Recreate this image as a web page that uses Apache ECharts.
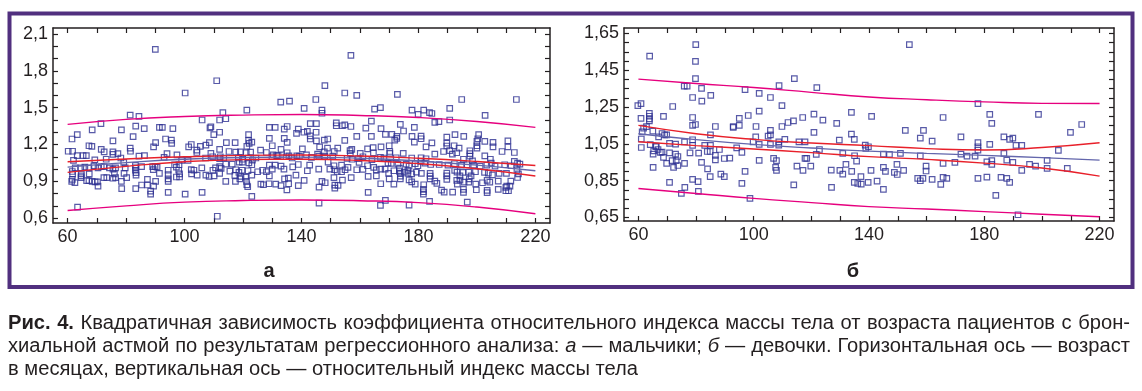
<!DOCTYPE html>
<html><head><meta charset="utf-8">
<script src="https://cdn.jsdelivr.net/npm/echarts@6/dist/echarts.min.js"></script>
<style>
html,body{margin:0;padding:0;background:#fff;}
#chart{position:absolute;left:0;top:0;width:1142px;height:391px;}
#cap{position:absolute;left:8px;top:311px;font-family:"Liberation Sans",Arial,sans-serif;font-size:20px;color:#231f20;transform-origin:0 0;white-space:nowrap;}
#cap div{height:23px;line-height:23px;white-space:nowrap;}
</style></head><body>
<div id="chart"></div>
<div id="cap">
<div><span id="l1"><b>Рис. 4.</b> Квадратичная зависимость коэффициента относительного индекса массы тела от возраста пациентов с брон-</span></div>
<div><span id="l2">хиальной астмой по результатам регрессионного анализа: <i>а</i> — мальчики; <i>б</i> — девочки. Горизонтальная ось — возраст</span></div>
<div><span id="l3">в месяцах, вертикальная ось — относительный индекс массы тела</span></div>
</div>
<script>
// ---- tick labels ----
const xTicks = [60,70,80,90,100,110,120,130,140,150,160,170,180,190,200,210,220];
const xLabels = [60,100,140,180,220];
const yTicksA = [0.6,0.7,0.8,0.9,1.0,1.1,1.2,1.3,1.4,1.5,1.6,1.7,1.8,1.9,2.0,2.1];
const yLabelsA = [0.6,0.9,1.2,1.5,1.8,2.1];
const yTicksB = [0.65,0.7,0.75,0.8,0.85,0.9,0.95,1.0,1.05,1.1,1.15,1.2,1.25,1.3,1.35,1.4,1.45,1.5,1.55,1.6,1.65];
const yLabelsB = [0.65,0.85,1.05,1.25,1.45,1.65];
const panelTitles = ['а','б'];

// ---- regression curves (age in months) ----
const curveX = [60,80,100,120,140,160,180,200,220];
const boysFit  = [1.016,1.052,1.080,1.094,1.097,1.088,1.066,1.032,0.986];
const boysCiUp = [1.059,1.082,1.100,1.111,1.114,1.106,1.088,1.062,1.029];
const boysCiLo = [0.973,1.022,1.060,1.077,1.080,1.070,1.044,1.002,0.943];
const boysPiUp = [1.364,1.405,1.428,1.440,1.445,1.437,1.420,1.388,1.340];
const boysPiLo = [0.662,0.700,0.730,0.743,0.748,0.742,0.726,0.690,0.635];
const girlsFit  = [1.105,1.073,1.047,1.027,1.010,0.998,0.987,0.975,0.961];
const girlsCiUp = [1.150,1.105,1.074,1.054,1.040,1.024,1.016,1.030,1.056];
const girlsCiLo = [1.061,1.040,1.022,1.002,0.980,0.965,0.945,0.918,0.874];
const girlsPiUp = [1.402,1.378,1.356,1.330,1.305,1.290,1.278,1.270,1.269];
const girlsPiLo = [0.807,0.780,0.753,0.730,0.708,0.695,0.681,0.667,0.653];

// ---- observations: [age, relative BMI] ----
const boysPoints = [
[90,1.975],[111,1.72],[100.2,1.62],[81.4,1.44],[84.4,1.43],[106,1.40],[112,1.40],[71.4,1.37],[83.3,1.35],[91.4,1.34],
[92.4,1.34],[96,1.33],[86.2,1.33],[78.4,1.32],[68.4,1.32],[109,1.345],[108.7,1.335],[61.5,1.245],[63.3,1.28],[82.4,1.265],
[110,1.28],[112,1.30],[75.5,1.23],[93.5,1.245],[95.5,1.235],[95.6,1.21],[67.3,1.19],[68.3,1.185],[90.1,1.215],[89.4,1.18],
[81.4,1.17],[71.5,1.16],[60.2,1.145],[61.7,1.145],[72.5,1.14],[75.5,1.14],[75.5,1.12],[77.2,1.125],[81.5,1.145],[102.3,1.20],
[101.4,1.18],[105.4,1.185],[107.3,1.195],[108.5,1.215],[104.2,1.155],[104.2,1.135],[109,1.127],[112,1.16],[63.3,1.11],[65.3,1.11],
[66.4,1.11],[97.4,1.115],[94,1.125],[93,1.095],[84.4,1.105],[86.3,1.11],[78.2,1.09],[101.2,1.07],[107.2,1.09],[109.6,1.10],
[112,1.085],[62,1.07],[69.3,1.075],[73.2,1.08],[79.2,1.055],[62.6,1.01],[64.5,1.01],[65.9,1.015],[67.3,1.01],[69,1.025],
[70.4,1.01],[71.5,1.02],[72.5,1.02],[74.3,1.01],[76.4,1.01],[79.7,1.01],[83.2,1.03],[83.3,1.01],[85.3,1.02],[89.1,1.02],
[89.9,1.02],[89.3,0.995],[90.6,1.015],[96.6,1.035],[98.1,1.035],[97.2,1.015],[99,1.07],[102.3,0.995],[103.2,0.99],[105.9,1.01],
[109.7,0.99],[110.6,1.01],[112,1.02],[61.6,0.98],[61.7,0.96],[64.7,0.96],[67.4,0.96],[75.5,1.0],[76,0.96],[79.3,0.965],
[83.2,0.99],[83.4,0.97],[83.4,0.95],[91.4,0.965],[94.4,0.99],[94.4,0.955],[94.4,0.92],[94.4,0.90],[98,0.99],[98.3,0.96],
[97.2,0.935],[98.3,0.935],[102.4,0.96],[104.3,0.95],[107.3,0.95],[108.4,0.94],[110.1,0.945],[112,0.965],[61.6,0.915],[61.4,0.90],
[62.5,0.89],[64.6,0.93],[64.6,0.945],[66.5,0.905],[67.3,0.905],[68.4,0.90],[69.4,0.895],[70.2,0.895],[70.4,0.86],[72.4,0.93],
[73.4,0.93],[75.5,0.925],[76.4,0.93],[78.4,0.90],[80.2,0.93],[85.3,0.87],[87.3,0.915],[87.3,0.87],[89.4,0.86],[90.1,0.90],
[78.5,0.84],[83.3,0.84],[88.4,0.82],[88.4,0.795],[94.4,0.81],[100.2,0.795],[106,0.81],[63.4,0.69],[111.2,0.615],
[156.9,1.926],[148,1.68],[154.8,1.62],[158.9,1.60],[132.9,1.545],[135.9,1.553],[144.9,1.567],[140.9,1.494],[147,1.48],[147,1.455],
[121.3,1.48],[113.1,1.46],[165,1.488],[167,1.50],[114.1,1.41],[143,1.37],[145.1,1.37],[151.9,1.377],[151.9,1.353],[154,1.353],
[154.8,1.36],[156.9,1.347],[163.9,1.39],[129,1.34],[131,1.34],[135.1,1.347],[134.1,1.325],[138.9,1.325],[142,1.307],[140.8,1.30],
[145,1.30],[138.3,1.29],[143,1.27],[143,1.245],[145.1,1.23],[147.8,1.235],[149,1.245],[162,1.334],[167.2,1.33],[121.9,1.28],
[121.9,1.233],[129,1.25],[134.1,1.25],[135.1,1.217],[158.9,1.266],[163.9,1.266],[114.3,1.215],[117.3,1.215],[122.1,1.21],[123,1.22],
[154.8,1.233],[121.3,1.185],[130,1.19],[133,1.16],[140.3,1.165],[146.2,1.18],[148.9,1.17],[152.4,1.17],[157.2,1.16],[162.6,1.165],
[164.5,1.175],[167.2,1.18],[115.2,1.143],[117.5,1.138],[119.1,1.14],[121.1,1.133],[122.6,1.138],[126,1.155],[128,1.135],[130.3,1.116],
[131.5,1.11],[135.1,1.133],[135.7,1.108],[138.4,1.108],[141.7,1.116],[145.5,1.122],[147.8,1.14],[151.2,1.143],[156.6,1.15],[156.7,1.127],
[160.1,1.127],[164.6,1.133],[112.2,1.10],[113.4,1.09],[118.4,1.09],[119.8,1.08],[121.8,1.09],[123.2,1.073],[124.4,1.09],[129.9,1.10],
[132,1.11],[134.7,1.10],[136.8,1.09],[139.3,1.105],[143.4,1.095],[145.9,1.105],[148,1.105],[150.7,1.105],[155.6,1.087],[157.3,1.08],
[159.5,1.084],[161,1.10],[164.1,1.076],[167,1.095],[114.1,1.04],[116.3,1.04],[118.7,1.057],[119.8,1.057],[122,1.05],[123,1.035],
[129,1.032],[131,1.032],[133,1.024],[138.9,1.037],[142.8,1.032],[149.1,1.057],[151.1,1.027],[153.7,1.032],[155.9,1.013],[159.7,1.054],
[162.6,1.027],[164.7,1.013],[112.5,1.005],[115.5,0.983],[117.5,0.994],[118.6,0.972],[119.7,0.99],[121.7,0.986],[125,0.978],[126.7,0.99],
[128,0.978],[130,1.0],[134,1.0],[137,1.018],[138.1,0.95],[142,0.986],[145.9,1.0],[149.7,1.0],[151.3,0.994],[152.2,0.98],
[154.9,0.994],[153.7,0.978],[158.9,0.994],[161,0.997],[165.6,0.994],[167.1,1.0],[117.2,0.948],[119.3,0.94],[120.9,0.934],[123,0.95],
[129,0.945],[134.2,0.92],[135.5,0.926],[140.9,0.907],[147,0.90],[148.1,0.888],[151.1,0.93],[154,0.91],[157,0.93],[162.8,0.94],
[165.6,0.945],[121.2,0.90],[121.3,0.872],[121.6,0.856],[126.1,0.877],[127,0.872],[128.9,0.88],[131.2,0.877],[133,0.864],[135.6,0.88],
[138.9,0.864],[146,0.853],[151.4,0.869],[151.4,0.845],[152.5,0.867],[167.1,0.88],[135,0.83],[162.8,0.81],[123,0.777],[146,0.722],
[167,0.703],[114.1,0.90],[117.4,0.90],[118.9,0.92],
[172.8,1.608],[194.8,1.567],[213.5,1.567],[177.8,1.48],[181.8,1.48],[179.9,1.445],[183.8,1.46],[184.6,1.453],[185.6,1.38],[187,1.386],
[190.7,1.494],[190.7,1.40],[202.8,1.437],[173.8,1.364],[174.9,1.31],[178.6,1.34],[168.7,1.282],[170.9,1.282],[172.6,1.266],[172.6,1.25],
[171.9,1.236],[177.8,1.266],[180.9,1.268],[180.9,1.247],[189.7,1.26],[192.5,1.28],[195.5,1.266],[200.6,1.28],[200.3,1.247],[202.7,1.225],
[205.5,1.217],[205.5,1.18],[210.6,1.23],[210.6,1.18],[170,1.19],[178.6,1.22],[182.6,1.18],[184.6,1.214],[189.7,1.212],[189.7,1.188],
[192.2,1.19],[200,1.225],[200,1.19],[200,1.17],[193.9,1.17],[170.2,1.127],[170.2,1.143],[172.4,1.092],[174.8,1.127],[177.7,1.09],
[180.9,1.092],[182.6,1.084],[185.6,1.122],[188.6,1.143],[190.7,1.15],[191.6,1.122],[193.1,1.133],[197.6,1.149],[197.6,1.125],[197.6,1.105],
[195.4,1.08],[198.5,1.067],[202.7,1.108],[204.6,1.08],[204.9,1.048],[208.6,1.143],[212.8,1.135],[212.8,1.062],[213.9,1.048],[214.7,1.04],
[168.2,1.09],[169.6,1.048],[170.7,1.046],[173,1.04],[175.8,1.04],[176.8,1.024],[178.9,1.043],[179.8,1.027],[180.9,1.062],[182.2,1.048],
[184.2,1.037],[187.1,1.037],[190.1,1.032],[192.3,1.043],[194.7,1.032],[196.6,1.035],[198.9,1.032],[201.1,1.024],[203.4,1.032],[206.2,1.024],
[209.5,1.035],[211.7,1.027],[168.6,1.0],[169.8,0.964],[171.6,0.986],[173.5,1.008],[173.5,0.98],[173.8,0.964],[173.8,0.942],[173.8,0.92],
[175.2,0.975],[176.4,0.989],[176.4,0.964],[177.7,0.961],[179.3,0.975],[181,0.964],[184,0.964],[184,0.942],[184,0.92],[189.7,0.967],
[189.7,0.945],[192.4,0.989],[193.2,0.975],[194.2,0.945],[195.2,0.972],[197.2,0.975],[198,0.945],[199.5,0.978],[202.6,0.972],[203.9,0.967],
[205.3,0.953],[207.6,0.964],[210.1,0.964],[213.7,0.992],[214.2,0.961],[213.9,0.931],[170,0.92],[171.6,0.877],[176.8,0.912],[177.7,0.896],
[178.9,0.877],[181.8,0.872],[185.6,0.902],[186.3,0.883],[189.7,0.915],[193.1,0.907],[193.3,0.877],[194.2,0.91],[195.6,0.893],[197.2,0.893],
[197.4,0.92],[199.6,0.877],[201.9,0.888],[203.5,0.907],[204.4,0.893],[207.3,0.902],[210.2,0.86],[211.3,0.86],[211.6,0.902],[181.7,0.834],
[181.7,0.815],[181.7,0.796],[187.9,0.828],[188.8,0.812],[191.7,0.812],[195.4,0.834],[195.4,0.81],[199.8,0.831],[203.5,0.826],[203.5,0.807],
[207.3,0.834],[209.9,0.85],[209.9,0.823],[210.8,0.823],[168.7,0.744],[183.8,0.736],[196.7,0.73],[176.8,0.705]
];

const girlsPoints = [
[79.9,1.59],[63.9,1.527],[79.8,1.498],[79.8,1.405],[75.9,1.364],[76.9,1.364],[81.9,1.351],[85.1,1.313],[78.8,1.302],[82,1.282],
[97,1.345],[101.9,1.324],[105.8,1.302],[108.8,1.367],[114.1,1.405],[121.9,1.356],[59.8,1.258],[60.9,1.269],[71.9,1.253],[109.8,1.258],
[101.9,1.228],[60.9,1.188],[63.8,1.215],[63.8,1.2],[63.8,1.186],[63.8,1.175],[68.7,1.199],[78.8,1.193],[78.8,1.15],[79.8,1.155],
[62.8,1.143],[61.8,1.135],[65,1.119],[86.7,1.144],[92.9,1.144],[92.9,1.139],[95,1.15],[98.1,1.204],[95,1.188],[100.8,1.144],
[105.8,1.123],[109.8,1.144],[111.9,1.166],[113.8,1.175],[117,1.193],[120.9,1.211],[124,1.179],[128.8,1.161],[133.9,1.221],[68.2,1.106],
[69.1,1.099],[69.8,1.099],[85,1.099],[105,1.092],[105.8,1.099],[120.9,1.112],[133.9,1.103],
[61.3,1.115],[67,1.088],[61,1.076],[61,1.03],[64.1,1.045],[65.3,1.012],[66,1.034],[65.1,0.994],[66.2,1.037],[66.8,1.019],
[67.6,1.003],[68.2,1.005],[68.7,0.976],[65.1,0.922],[69.8,0.943],[70.8,1.052],[70.8,1.001],[72.2,0.922],[72.9,1.048],[72.9,0.994],
[73.1,0.958],[73.7,0.932],[73.7,0.981],[71.7,0.958],[76,1.061],[76,0.943],[77.9,1.001],[78.8,1.072],[78.8,1.041],[78.8,0.856],
[80.7,0.844],[80.9,0.999],[81.9,0.949],[83,1.041],[83.9,1.008],[84.9,1.008],[84,0.914],[85,1.041],[84.9,0.871],[86.7,0.987],
[86.7,0.963],[88.1,1.019],[88.6,0.885],[89.8,0.871],[89.8,0.97],[91.7,0.972],[70.8,0.84],[76.1,0.813],[74.9,0.78],[80.8,0.791],
[94.1,1.028],[95.9,1.003],[95.9,0.835],[97,0.9],[98.7,0.753],[99.8,1.061],[100.7,1.088],[101.9,1.047],[101.9,0.96],[105.8,1.047],
[106.9,0.971],[107.6,0.922],[107.9,0.958],[107.9,0.905],[108.7,1.061],[108.7,1.043],[110.8,1.074],[113.9,0.826],[115,0.929],[115.7,1.061],
[117.1,0.905],[117.8,1.061],[117.8,0.971],[118.4,0.971],[119.8,0.929],[121.7,0.992],[122.8,1.019],[126.9,0.907],[127,0.813],[129.7,1.07],
[129.9,0.905],[130.9,0.998],[130.9,0.885],[132,0.938],[134.9,1.074],[135,0.985],[135.7,0.956],[137.2,0.871],[138.7,1.043],[138.9,1.025],
[139.7,0.84],[134.9,0.84],[137.3,0.831],
[154,1.59],[177.8,1.269],[140.9,1.199],[165.7,1.193],[181.9,1.21],[182.6,1.161],[198.8,1.21],[213.8,1.155],[152.6,1.123],[158.9,1.123],
[209.9,1.112],[157.8,1.081],[171.9,1.088],[186.8,1.088],[188.8,1.074],[189.9,1.081],
[161.9,1.065],[177.8,1.056],[177.8,1.034],[177.8,1.016],[181.9,1.047],[191,1.041],[193,1.041],[205.7,1.014],[139.8,1.034],[145,0.994],
[147.1,0.992],[150.9,0.998],[157.8,0.985],[171.9,0.994],[174,0.983],[176.8,0.983],[186.8,0.998],[180.9,0.952],[182.6,0.958],[182.6,0.938],
[187.8,0.961],[189.9,0.949],[195.7,0.938],[197.8,0.929],[201.8,0.96],[201.8,0.916],[208.8,0.916],[169.8,0.949],[165.7,0.943],[159.8,0.929],
[159.8,0.902],[149.7,0.938],[145,0.922],[145.7,0.9],[148.8,0.894],[149.8,0.883],[152,0.905],[140.7,0.905],[134,0.9],[142.8,0.847],
[136.1,0.834],[156.9,0.862],[157.8,0.849],[158.7,0.862],[161.9,0.856],[165.7,0.867],[164.9,0.829],[167,0.862],[177.8,0.862],[180.9,0.869],
[185.8,0.867],[187.8,0.862],[188.8,0.84],[193,0.905],[145,0.802],[184,0.769],[191.7,0.664]
];

// ---- build chart ----
const INK = '#231f20';
const FONT = '"Liberation Sans", Arial, sans-serif';
const comma = v => String(v).replace('.', ',');

function xAx(grid, pos, labels) {
  return {
    type:'value', gridIndex:grid, position:pos, min:55, max:225,
    axisLine:{show:true, onZero:false, lineStyle:{color:INK, width:1.5}},
    axisTick:{show:true, inside:true, length:5, customValues:xTicks, lineStyle:{color:INK, width:1.2}},
    axisLabel:{show:labels, customValues:xLabels, color:INK, fontSize:18, fontFamily:FONT, margin:5},
    splitLine:{show:false}
  };
}
function yAx(grid, pos, labels, lo, hi, ticks, labs) {
  return {
    type:'value', gridIndex:grid, position:pos, min:lo, max:hi,
    axisLine:{show:true, onZero:false, lineStyle:{color:INK, width:1.5}},
    axisTick:{show:true, inside:true, length:5, customValues:ticks, lineStyle:{color:INK, width:1.2}},
    axisLabel:{show:labels, customValues:labs, color:INK, fontSize:18, fontFamily:FONT, margin:5, formatter:comma},
    splitLine:{show:false}
  };
}
const pair = (xs, ys) => xs.map((x, i) => [x, ys[i]]);
function curve(xi, yi, ys, color) {
  return {type:'line', xAxisIndex:xi, yAxisIndex:yi, data:pair(curveX, ys), smooth:true,
    showSymbol:false, silent:true, lineStyle:{color:color, width:1.4}, z:3};
}
function dots(xi, yi, pts) {
  return {type:'scatter', xAxisIndex:xi, yAxisIndex:yi, data:pts, symbol:'rect', symbolSize:5.5,
    itemStyle:{color:'rgba(0,0,0,0)', borderColor:'#2e3192', borderWidth:1.2}, silent:true, z:2};
}
const PI = '#e6007e', CI = '#e8202a', FIT = '#6366ac';

const chart = echarts.init(document.getElementById('chart'), null, {renderer:'canvas'});
chart.setOption({
  animation:false,
  backgroundColor:'#fff',
  grid:[{left:53, top:28, width:497, height:195}, {left:624, top:28, width:490, height:193}],
  xAxis:[xAx(0,'bottom',true), xAx(0,'top',false), xAx(1,'bottom',true), xAx(1,'top',false)],
  yAxis:[yAx(0,'left',true,0.56,2.15,yTicksA,yLabelsA), yAx(0,'right',false,0.56,2.15,yTicksA,yLabelsA),
         yAx(1,'left',true,0.63,1.68,yTicksB,yLabelsB), yAx(1,'right',false,0.63,1.68,yTicksB,yLabelsB)],
  series:[
    dots(0,0,boysPoints),
    curve(0,0,boysPiUp,PI), curve(0,0,boysPiLo,PI),
    curve(0,0,boysFit,FIT), curve(0,0,boysCiUp,CI), curve(0,0,boysCiLo,CI),
    dots(2,2,girlsPoints),
    curve(2,2,girlsPiUp,PI), curve(2,2,girlsPiLo,PI),
    curve(2,2,girlsFit,FIT), curve(2,2,girlsCiUp,CI), curve(2,2,girlsCiLo,CI)
  ],
  graphic:[
    {type:'rect', silent:true, shape:{x:9.5, y:13.5, width:1123, height:273.5},
     style:{fill:'none', stroke:'#51307f', lineWidth:4}},
    {type:'text', x:269, y:271, style:{text:panelTitles[0], font:'bold 20px ' + FONT, fill:INK, textAlign:'center', textVerticalAlign:'middle'}},
    {type:'text', x:853, y:271, style:{text:panelTitles[1], font:'bold 20px ' + FONT, fill:INK, textAlign:'center', textVerticalAlign:'middle'}}
  ]
});

// ---- caption fitting (condensed, justified like the print) ----
(function(){
  const cap = document.getElementById('cap');
  const l1 = document.getElementById('l1'), l2 = document.getElementById('l2'), l3 = document.getElementById('l3');
  const w3 = l3.getBoundingClientRect().width;
  const s = 630 / w3;
  [l1, l2].forEach(el => {
    const w = el.getBoundingClientRect().width;
    const n = (el.textContent.match(/ /g) || []).length;
    el.style.wordSpacing = ((1122 / s - w) / n) + 'px';
  });
  cap.style.transform = 'scaleX(' + s + ')';
})();
</script>
</body></html>
